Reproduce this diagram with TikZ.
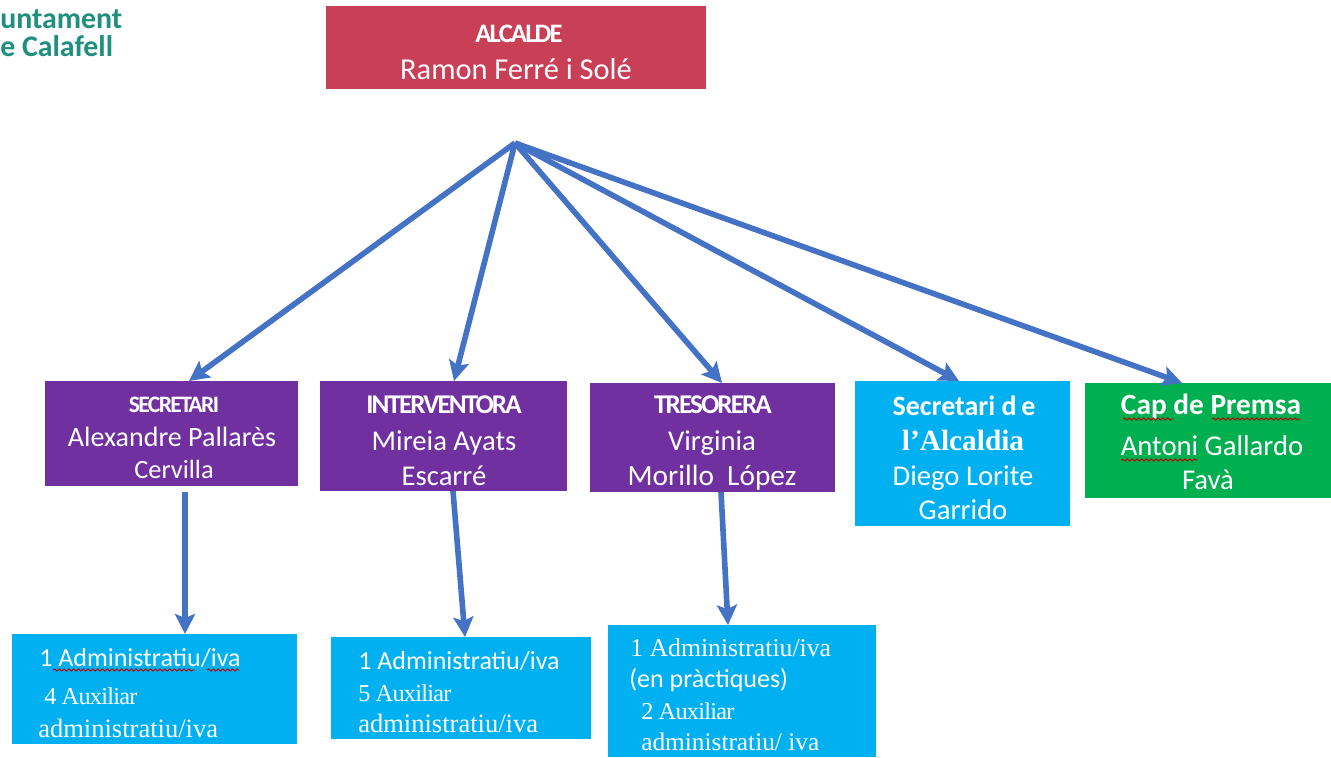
\documentclass[tikz,border=0pt]{standalone}
\usepackage{fontspec}
\setmainfont{Carlito}
\newfontfamily\serifx{Liberation Serif}
\newfontfamily\serift[LetterSpace=-3]{Liberation Serif}
\newfontfamily\tightx[LetterSpace=-7]{Carlito}
\usetikzlibrary{arrows.meta,decorations.pathmorphing}
\definecolor{alc}{HTML}{C93F56}
\definecolor{pur}{HTML}{7030A0}
\definecolor{sky}{HTML}{00B0F0}
\definecolor{grn}{HTML}{00B050}
\definecolor{arr}{HTML}{4472C4}
\definecolor{logo}{HTML}{1F9080}
\newcommand{\fsz}[1]{\fontsize{#1}{#1}\selectfont}
\tikzset{
 x=0.75pt,y=-0.75pt,
 txt/.style={text=white,inner sep=0pt,anchor=base,font=\fsz{21.5}},
 head/.style={text=white,inner sep=0pt,anchor=base,font=\tightx\bfseries\fsz{20.3}},
 hb/.style={text=white,inner sep=0pt,anchor=base,font=\bfseries\fsz{21.5}},
 hs/.style={text=white,inner sep=0pt,anchor=base,font=\serifx\bfseries\fsz{22}},
 ser/.style={text=white,inner sep=0pt,anchor=base west,font=\serifx\fsz{19.9}},
 sert/.style={text=white,inner sep=0pt,anchor=base west,font=\serift\fsz{18.2}},
 cal/.style={text=white,inner sep=0pt,anchor=base west,font=\fsz{19.5}},
 link/.style={draw=arr,line width=4.2pt,-{Stealth[length=15pt,width=15pt,inset=3pt]}},
 wavy/.style={draw=red!75!black,line width=0.7pt,decorate,decoration={snake,amplitude=0.8pt,segment length=3.6pt}},
 logot/.style={text=logo,inner sep=0pt,anchor=base west,font=\bfseries\fsz{22.4}},
}
\begin{document}
\begin{tikzpicture}
\useasboundingbox (0,0) rectangle (1331,757);
\fill[white] (0,0) rectangle (1331,757);
\path[fill=alc] (326,6) rectangle (706,89);
\path[fill=pur] (45,381) rectangle (298,486);
\path[fill=pur] (320,381) rectangle (567,491);
\path[fill=pur] (590,383) rectangle (835,492);
\path[fill=sky] (855,381) rectangle (1070,526);
\path[fill=grn] (1085,383) rectangle (1331,498);
\path[fill=sky] (12,634) rectangle (297,744);
\path[fill=sky] (331,637) rectangle (591,739);
\path[fill=sky] (608,625) rectangle (876,757);
% anchors
\coordinate (apex) at (515,143);
\coordinate (secin) at (189,381);
\coordinate (intin) at (454,381);
\coordinate (trein) at (722,383);
\coordinate (salin) at (959,381);
\coordinate (capin) at (1182,383);
\coordinate (secout) at (185,492);
\coordinate (intout) at (453,491);
\coordinate (treout) at (721,492);
\coordinate (a1in) at (185,634);
\coordinate (a2in) at (465,637);
\coordinate (a3in) at (728,625);
\draw[link] (apex) -- (secin);
\draw[link] (apex) -- (intin);
\draw[link] (apex) -- (trein);
\draw[link] (apex) -- (salin);
\draw[link] (apex) -- (capin);
\draw[link] (secout) -- (a1in);
\draw[link] (intout) -- (a2in);
\draw[link] (treout) -- (a3in);
% logo
\node[logot] (l1) at (0,28) {untament};
\node[logot] (l2) at (0,56) {e Calafell};
% top
\node[head,font=\tightx\bfseries\fsz{20}] (t1) at (519,42) {ALCALDE};
\node[txt,font=\fsz{22.8}] (t2) at (516,79) {Ramon Ferré i Solé};
% secretari
\node[head,font=\tightx\bfseries\fsz{17.7}] (s1) at (174,412) {SECRETARI};
\node[txt,font=\fsz{21}] (s2) at (172,446) {Alexandre Pallarès};
\node[txt,font=\fsz{19.8}] (s3) at (174,478) {Cervilla};
% interventora
\node[head] (i1) at (444,413) {INTERVENTORA};
\node[txt] (i2) at (444,450) {Mireia Ayats};
\node[txt] (i3) at (444,485) {Escarré};
% tresorera
\node[head] (r1) at (713,413) {TRESORERA};
\node[txt] (r2) at (712,450) {Virginia};
\node[txt,font=\fsz{22}] (r3) at (712,485) {Morillo~ López};
% secretari alcaldia
\node[hb,font=\bfseries\fsz{21}] (q1) at (964,415) {Secretari d\,e};
\node[hs] (q2) at (963,450) {l’Alcaldia};
\node[txt] (q3) at (963,485) {Diego Lorite};
\node[txt] (q4) at (963,519) {Garrido};
% cap premsa
\node[hb,font=\bfseries\fsz{22}] (c1) at (1211,414) {Cap de Premsa};
\node[txt] (c2) at (1212,455) {Antoni Gallardo};
\node[txt] (c3) at (1208,489) {Favà};
\draw[wavy] (1123,419) -- (1174,419);
\draw[wavy] (1212,419) -- (1301,419);
\draw[wavy] (1121,460) -- (1198,460);
% a1
\node[cal] (a11) at (39,666) {1 Administratiu/iva};
\draw[wavy] (53,670) -- (195,670);
\draw[wavy] (207,670) -- (239,670);
\node[sert] (a12) at (44,704) {4 Auxiliar};
\node[ser] (a13) at (38,737) {administratiu/iva};
% a2
\node[cal] (a21) at (358,669) {1 Administratiu/iva};
\node[sert] (a22) at (358,701) {5 Auxiliar};
\node[ser] (a23) at (358,732) {administratiu/iva};
% a3
\node[ser,font=\serifx\fsz{19.3}] (a31) at (630,656) {1 Administratiu/iva};
\node[cal] (a32) at (629,687) {(en pràctiques)};
\node[sert] (a33) at (641,719) {2 Auxiliar};
\node[ser,font=\serifx\fsz{19}] (a34) at (641,750) {administratiu/ iva};
\end{tikzpicture}
\end{document}
